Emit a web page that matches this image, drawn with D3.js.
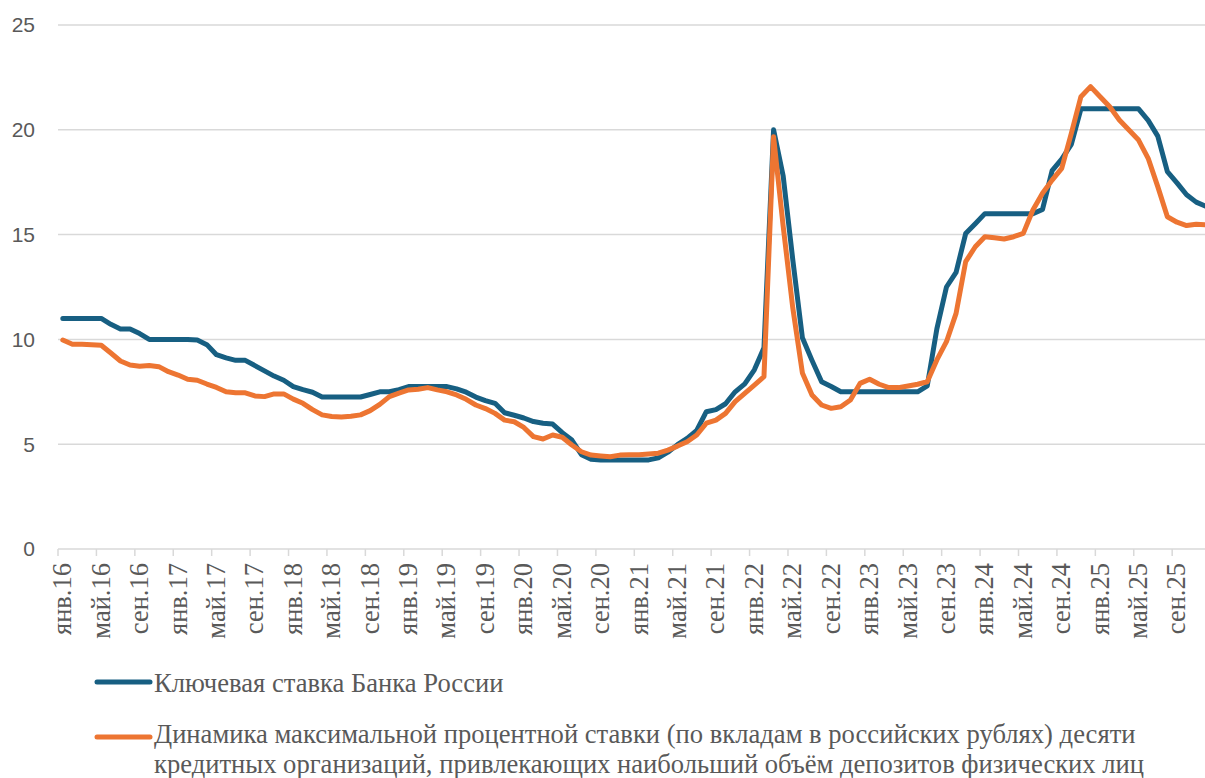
<!DOCTYPE html>
<html lang="ru">
<head>
<meta charset="utf-8">
<script src="https://cdn.jsdelivr.net/npm/d3@7"></script>
<style>
  html, body { margin: 0; padding: 0; background: #fff; }
  svg { display: block; }
</style>
</head>
<body>
<svg id="chart" width="1205" height="778"></svg>
<script>
// Monthly series, January 2016 – December 2025
const months = ["янв", "фев", "мар", "апр", "май", "июн", "июл", "авг", "сен", "окт", "ноя", "дек"];
const years = ["16", "17", "18", "19", "20", "21", "22", "23", "24", "25"];
const categories = years.flatMap(y => months.map(m => `${m}.${y}`));

// Ключевая ставка Банка России, % (среднее за месяц)
const keyRate = [
  11, 11, 11, 11, 11, 10.72, 10.5, 10.5, 10.28, 10, 10, 10,
  10, 10, 9.97, 9.75, 9.27, 9.12, 9, 9, 8.75, 8.5, 8.25, 8.05,
  7.75, 7.6, 7.48, 7.25, 7.25, 7.25, 7.25, 7.25, 7.37, 7.5, 7.5, 7.6,
  7.75, 7.75, 7.75, 7.75, 7.75, 7.64, 7.48, 7.25, 7.08, 6.95, 6.5, 6.38,
  6.25, 6.08, 6.0, 5.96, 5.55, 5.2, 4.5, 4.28, 4.25, 4.25, 4.25, 4.25,
  4.25, 4.25, 4.35, 4.62, 4.98, 5.28, 5.66, 6.55, 6.65, 6.93, 7.5, 7.88,
  8.55, 9.6, 20, 17.8, 13.8, 10.08, 9.0, 7.98, 7.75, 7.5, 7.5, 7.5,
  7.5, 7.5, 7.5, 7.5, 7.5, 7.5, 7.78, 10.5, 12.5, 13.2, 15.05, 15.52,
  16, 16, 16, 16, 16, 16, 16.2, 18.05, 18.6, 19.3, 21, 21,
  21, 21, 21, 21, 21, 20.45, 19.7, 18.0, 17.47, 16.9, 16.55, 16.35
];

// Максимальная процентная ставка десяти крупнейших банков, %
const depositRate = [
  9.97, 9.77, 9.77, 9.75, 9.72, 9.35, 8.97, 8.78, 8.72, 8.75, 8.7, 8.46,
  8.3, 8.1, 8.05, 7.87, 7.71, 7.5, 7.45, 7.45, 7.3, 7.27, 7.4, 7.4,
  7.15, 6.95, 6.65, 6.4, 6.32, 6.3, 6.33, 6.4, 6.6, 6.9, 7.27, 7.44,
  7.59, 7.62, 7.7, 7.59, 7.5, 7.35, 7.14, 6.87, 6.7, 6.47, 6.15, 6.07,
  5.8, 5.36, 5.25, 5.44, 5.33, 4.96, 4.64, 4.48, 4.44, 4.4, 4.48, 4.5,
  4.5, 4.53, 4.57, 4.72, 4.91, 5.12, 5.44, 6.0, 6.15, 6.47, 7.03, 7.43,
  7.82, 8.22, 19.67, 15.4, 11.5, 8.4, 7.35, 6.87, 6.71, 6.79, 7.11, 7.9,
  8.1, 7.86, 7.7, 7.7, 7.78, 7.86, 7.98, 9.02, 9.89, 11.24, 13.71, 14.42,
  14.9, 14.85, 14.79, 14.9, 15.06, 16.17, 16.97, 17.6, 18.16, 19.83, 21.58, 22.06,
  21.58, 21.1, 20.47, 19.99, 19.51, 18.64, 17.29, 15.85, 15.59, 15.43, 15.49, 15.47
];

const yTicks = [0, 5, 10, 15, 20, 25];

const seriesNames = [
  "Ключевая ставка Банка России",
  "Динамика максимальной процентной ставки (по вкладам в российских рублях) десяти",
  "кредитных организаций, привлекающих наибольший объём депозитов физических лиц"
];

const colors = { key: "#175f82", deposit: "#ed7532", grid: "#d9d9d9", text: "#595959" };

const svg = d3.select("#chart");
const plotLeft = 58, monthWidth = 9.605;
const x = d3.scaleBand()
  .domain(d3.range(categories.length))
  .range([plotLeft, plotLeft + monthWidth * categories.length])
  .padding(0);
const y = d3.scaleLinear().domain([0, 25]).range([549, 25]);
const cx = i => x(i) + x.bandwidth() / 2;

// horizontal gridlines
svg.append("g")
  .selectAll("line")
  .data(yTicks.filter(v => v > 0))
  .join("line")
  .attr("x1", plotLeft).attr("x2", 1205)
  .attr("y1", d => y(d)).attr("y2", d => y(d))
  .attr("stroke", colors.grid).attr("stroke-width", 1.5);

// y-axis labels
svg.append("g")
  .selectAll("text")
  .data(yTicks)
  .join("text")
  .attr("x", 35).attr("y", d => y(d))
  .attr("dy", "0.35em")
  .attr("text-anchor", "end")
  .attr("font-family", "Liberation Sans, Arial, sans-serif")
  .attr("font-size", 21)
  .attr("fill", colors.text)
  .text(d => d);

// category axis: baseline, tick marks every four months, rotated labels
const xAxis = d3.axisBottom(x)
  .tickValues(d3.range(0, categories.length, 4))
  .tickFormat(i => categories[i])
  .tickSize(0)
  .tickPadding(0);
const gx = svg.append("g").attr("transform", `translate(0,${y(0)})`).call(xAxis);
gx.select(".domain").remove();
gx.selectAll("text")
  .attr("transform", "rotate(-90)")
  .attr("x", -14).attr("y", 0).attr("dy", "0.32em")
  .attr("text-anchor", "end")
  .attr("font-family", "Liberation Serif, Times New Roman, serif")
  .attr("font-size", 26.5)
  .attr("fill", colors.text);

svg.append("line")
  .attr("x1", plotLeft).attr("x2", 1205)
  .attr("y1", y(0)).attr("y2", y(0))
  .attr("stroke", colors.grid).attr("stroke-width", 1.5);
svg.append("g")
  .selectAll("line")
  .data(d3.range(0, categories.length + 1, 4))
  .join("line")
  .attr("x1", i => plotLeft + i * x.step()).attr("x2", i => plotLeft + i * x.step())
  .attr("y1", y(0)).attr("y2", y(0) + 7)
  .attr("stroke", colors.grid).attr("stroke-width", 1.5);

// series lines
const line = d3.line().x((d, i) => cx(i)).y(d => y(d)).curve(d3.curveLinear);
svg.append("path").datum(keyRate)
  .attr("d", line).attr("fill", "none")
  .attr("stroke", colors.key).attr("stroke-width", 5)
  .attr("stroke-linejoin", "round").attr("stroke-linecap", "round");
svg.append("path").datum(depositRate)
  .attr("d", line).attr("fill", "none")
  .attr("stroke", colors.deposit).attr("stroke-width", 5)
  .attr("stroke-linejoin", "round").attr("stroke-linecap", "round");

// legend
const legend = svg.append("g")
  .attr("font-family", "Liberation Serif, Times New Roman, serif")
  .attr("font-size", 26.6)
  .attr("fill", colors.text);
legend.append("line")
  .attr("x1", 97).attr("x2", 150).attr("y1", 682).attr("y2", 682)
  .attr("stroke", colors.key).attr("stroke-width", 5).attr("stroke-linecap", "round");
legend.append("text").attr("x", 154).attr("y", 692).text(seriesNames[0]);
legend.append("line")
  .attr("x1", 97).attr("x2", 150).attr("y1", 737).attr("y2", 737)
  .attr("stroke", colors.deposit).attr("stroke-width", 5).attr("stroke-linecap", "round");
legend.append("text").attr("x", 154).attr("y", 743).text(seriesNames[1]);
legend.append("text").attr("x", 154).attr("y", 773).text(seriesNames[2]);
</script>
</body>
</html>
